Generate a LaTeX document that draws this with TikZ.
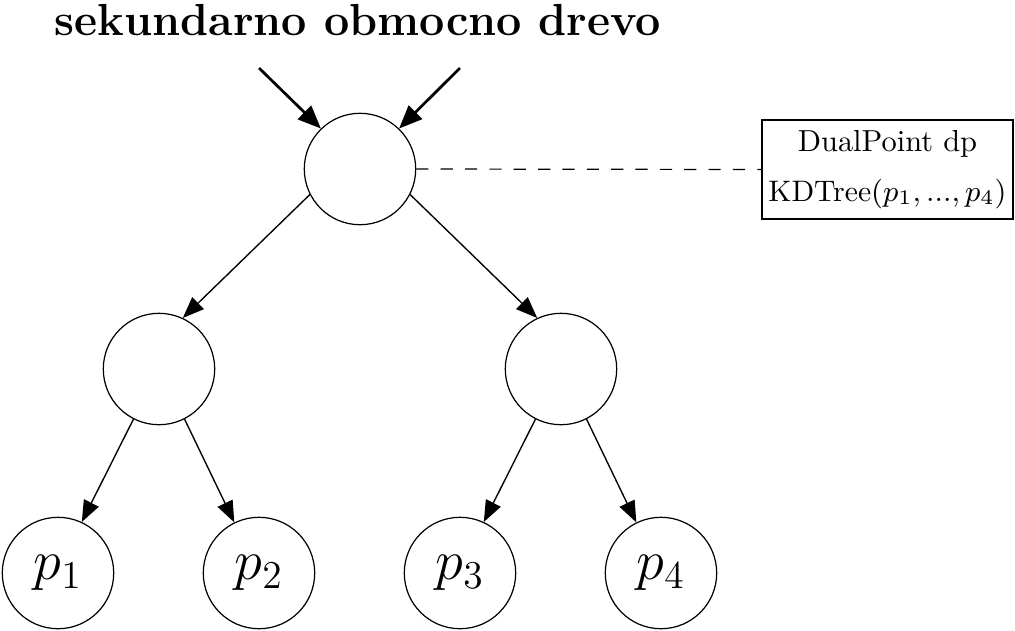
\RequirePackage{fix-cm}
\documentclass[tikz,border=0pt]{standalone}
\usetikzlibrary{arrows.meta}
\tikzset{
  tnode/.style={circle,draw,line width=0.4pt,minimum size=36.6pt,inner sep=0pt},
  leaflabel/.style={font=\fontsize{18.5}{22}\selectfont},
  edgearrow/.style={line width=0.45pt,-{Triangle[length=7pt,width=5.4pt]}},
  inarrow/.style={line width=0.9pt,-{Triangle[length=7.6pt,width=6.2pt]}},
  infobox/.style={draw,line width=0.65pt,minimum width=82.4pt,minimum height=32.5pt,align=center,inner sep=2pt},
  linkline/.style={line width=0.4pt,dash pattern=on 4pt off 4pt}
}
\begin{document}
\begin{tikzpicture}[x=0.3285pt,y=-0.3285pt]
\useasboundingbox (0,0) rectangle (1015,630);
\node[anchor=base,font=\fontsize{14.75}{18}\selectfont\bfseries] (title) at (358,35) {sekundarno obmocno drevo};
\node[tnode] (root) at (360,169) {};
\node[tnode] (l) at (159,369) {};
\node[tnode] (r) at (561,369) {};
\node[tnode,leaflabel] (p1) at (58,573) {$p_1$};
\node[tnode,leaflabel] (p2) at (259,573) {$p_2$};
\node[tnode,leaflabel] (p3) at (460,573) {$p_3$};
\node[tnode,leaflabel] (p4) at (661,573) {$p_4$};
\node[infobox] (box) at (887.5,169.5) {DualPoint dp\\[4.5pt]{\fontsize{9.75}{12}\selectfont KDTree$(p_1,...,p_4)$}};
\coordinate (inl) at (259,68);
\coordinate (inr) at (460,68);
\draw[inarrow] (inl) -- (root.134);
\draw[inarrow] (inr) -- (root.46);
\draw[edgearrow] (root.207) -- (l.65);
\draw[edgearrow] (root.333) -- (r.115);
\draw[edgearrow] (l.243) -- (p1.65);
\draw[edgearrow] (l.297) -- (p2.116);
\draw[edgearrow] (r.243) -- (p3.65);
\draw[edgearrow] (r.297) -- (p4.116);
\draw[linkline] (root.east) -- (box.west);
\end{tikzpicture}
\end{document}
